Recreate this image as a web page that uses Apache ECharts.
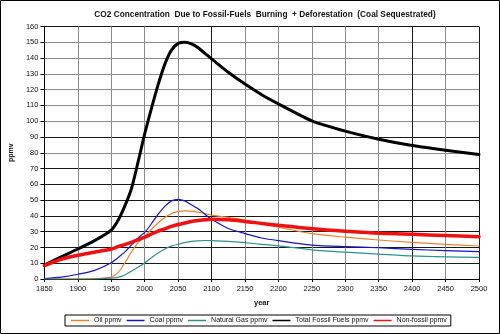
<!DOCTYPE html>
<html>
<head>
<meta charset="utf-8">
<script src="https://cdn.jsdelivr.net/npm/echarts@6/dist/echarts.min.js"></script>
<style>
  html, body { margin: 0; padding: 0; background: #fff; }
  #chart { width: 500px; height: 334px; }
</style>
</head>
<body>
<div id="chart"></div>
<script>
// Years sampled for every series
const years = [1850, 1875, 1900, 1925, 1950, 1960, 1970, 1980, 1990, 2000,
               2010, 2020, 2030, 2040, 2050, 2060, 2070, 2080, 2090, 2100,
               2125, 2150, 2175, 2200, 2250, 2300, 2350, 2400, 2450, 2500];

// CO2 concentration contributions, ppmv
const oil = [0, 0, 0, 0.2, 1.2, 4, 10, 17, 23, 27,
             31.5, 35.5, 39, 41.5, 42.8, 43.2, 43, 42.3, 41.5, 40.5,
             39, 37.3, 35, 32.8, 28.7, 26.5, 24.7, 23.2, 22, 20.9];
const coal = [0.3, 1.2, 3, 5.5, 10.3, 13.5, 17, 21.5, 26, 29.5,
              35, 41, 46, 49.5, 50.5, 49.5, 47, 44.5, 41, 37.8,
              32, 28.8, 26, 24.3, 21.5, 20.5, 19.8, 18.8, 18, 17.3];
const naturalGas = [0, 0, 0, 0, 0.5, 1, 2.5, 5, 7.5, 10.2,
                    13.5, 16.5, 19, 20.8, 22, 23, 23.8, 24.2, 24.4, 24.3,
                    23.8, 23, 22, 21, 18.5, 17, 15.8, 14.6, 14, 13.7];
const totalFossil = [8.8, 14, 19, 24.3, 31, 37, 46, 57, 74, 92,
                     108, 123, 136, 145, 149.3, 150, 149, 146.5, 143, 139.5,
                     131, 123.5, 116.8, 111, 100.2, 93.7, 88.6, 84.6, 81.6, 78.9];
const nonFossil = [8.5, 12.5, 15, 17, 19, 20.5, 21.8, 23.2, 25, 26.5,
                   28.5, 30.3, 31.8, 33.3, 34.5, 35.5, 36.4, 37, 37.5, 37.8,
                   37.5, 36.5, 35.2, 34, 31.8, 30.2, 29, 28.3, 27.5, 26.8];

const seriesNames = ['Oil ppmv', 'Coal ppmv', 'Natural Gas ppmv', 'Total Fossil Fuels ppmv', 'Non-fossil ppmv'];
const xTicks = { min: 1850, max: 2500, step: 50 };
const yTicks = { min: 0, max: 160, step: 10 };

const pairs = vals => years.map((y, i) => [y, vals[i]]);

const FONT = 'Liberation Sans, Arial, sans-serif';
const DARK = '#1a1a1a';
const GRAY = '#8a8a8a';

// grid line shades, one per tick
const vColors = [];
for (let v = xTicks.min; v <= xTicks.max; v += xTicks.step) {
  vColors.push((v === 2100 || v === 2400 || v === 2500) ? DARK : GRAY);
}
const hColors = [];
for (let v = yTicks.min; v <= yTicks.max; v += yTicks.step) {
  hColors.push((v <= 70 || v === 90 || v === 160) ? DARK : GRAY);
}

const chart = echarts.init(document.getElementById('chart'), null, { renderer: 'canvas' });

function lineSeries(name, vals, color, width, z) {
  return {
    name, type: 'line', data: pairs(vals), smooth: 0.25,
    symbol: 'none',
    lineStyle: { color, width, join: 'round', cap: 'round' }, itemStyle: { color }, z,
    emphasis: { disabled: true }
  };
}

chart.setOption({
  animation: false,
  backgroundColor: '#fff',
  textStyle: { fontFamily: FONT },
  title: {
    text: 'CO2 Concentration  Due to Fossil-Fuels  Burning  + Deforestation  (Coal Sequestrated)',
    left: 260, top: 6, textAlign: 'center',
    textStyle: { fontSize: 8.3, fontWeight: 'bold', color: '#111', fontFamily: FONT }
  },
  grid: { left: 36, right: 21, top: 26.5, bottom: 55, containLabel: false },
  legend: {
    data: seriesNames,
    left: 65, top: 315,
    borderColor: '#000', borderWidth: 1,
    padding: [2, 4, 2, 6],
    itemGap: 5, itemWidth: 18, itemHeight: 1.5,
    icon: 'rect',
    textStyle: { fontSize: 7, color: '#111' }
  },
  xAxis: {
    type: 'value', min: xTicks.min, max: xTicks.max, interval: xTicks.step,
    name: 'year', nameLocation: 'middle', nameGap: 20,
    nameTextStyle: { fontSize: 7.5, fontWeight: 'bold', color: '#111' },
    axisLine: { show: true, lineStyle: { color: '#000', width: 1 } },
    axisTick: { show: true, length: 3, lineStyle: { color: '#000' } },
    axisLabel: { fontSize: 7.5, color: '#111', margin: 6, formatter: v => String(v) },
    splitLine: { show: true, lineStyle: { color: vColors, width: 1 } }
  },
  yAxis: {
    type: 'value', min: yTicks.min, max: yTicks.max, interval: yTicks.step,
    name: 'ppmv', nameLocation: 'middle', nameGap: 22, nameRotate: 90,
    nameTextStyle: { fontSize: 7, fontWeight: 'bold', color: '#111' },
    axisLine: { show: true, lineStyle: { color: '#000', width: 1 } },
    axisTick: { show: true, length: 4, lineStyle: { color: '#000' } },
    axisLabel: { fontSize: 7.5, color: '#111', margin: 6 },
    splitLine: { show: true, lineStyle: { color: hColors, width: 1 } }
  },
  graphic: [{
    type: 'rect', shape: { x: 0.5, y: 0.5, width: 499, height: 333 },
    style: { fill: 'none', stroke: '#000', lineWidth: 1 }, silent: true, z: 100
  }],
  series: [
    lineSeries(seriesNames[0], oil, '#F0802A', 1.2, 2),
    lineSeries(seriesNames[1], coal, '#1414C8', 1.2, 3),
    lineSeries(seriesNames[2], naturalGas, '#2E9190', 1.2, 4),
    lineSeries(seriesNames[3], totalFossil, '#000000', 3, 5),
    lineSeries(seriesNames[4], nonFossil, '#F01010', 3.5, 6)
  ]
});
</script>
</body>
</html>
